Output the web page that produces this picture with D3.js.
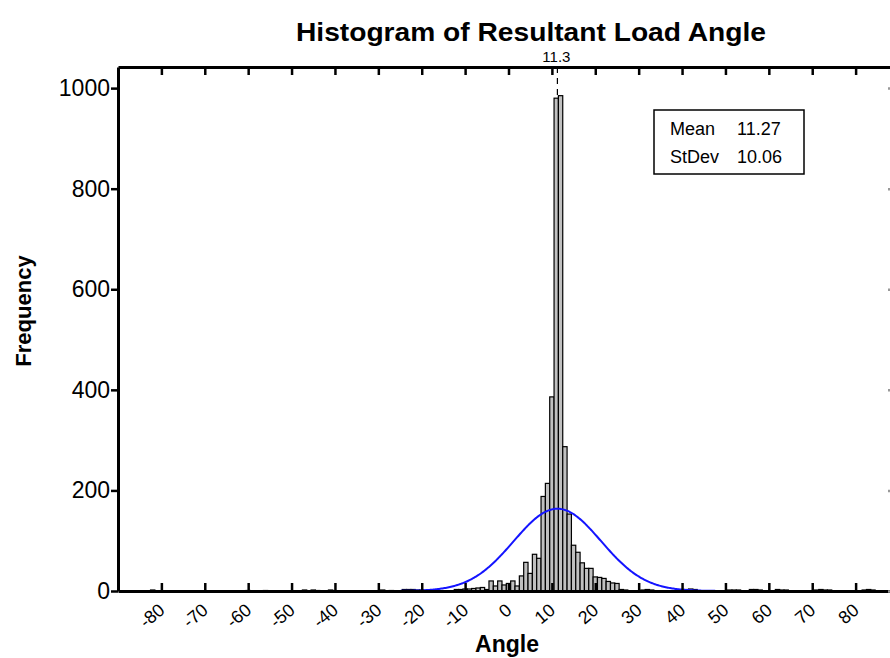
<!DOCTYPE html>
<html lang="en">
<head>
  <meta charset="UTF-8"/>
  <title>Histogram of Resultant Load Angle</title>
  <script src="https://d3js.org/d3.v7.min.js"></script>
  <style>
    body { margin: 0; background: #ffffff; }
    svg { display: block; font-family: "Liberation Sans", Arial, sans-serif; }
  </style>
</head>
<body>
<svg id="chart" width="890" height="658"></svg>
<script>
// bin midpoints (1 degree wide bins) and counts
const binMids = [
  -82, -60, -56, -47, -45, -44, -41, -29, -27, -24, -23, -22, -21, -20,
  -12, -11, -10, -9, -8, -7,
  -6, -5, -4, -3, -2, -1, 0, 1, 2, 3, 4, 5, 6, 7, 8, 9, 10,
  11, 12, 13, 14, 15, 16, 17, 18, 19, 20, 21, 22, 23, 24, 25, 26, 27,
  31, 32, 33, 41, 42, 43, 51, 52, 53, 56, 57, 58, 62, 63, 64,
  71, 72, 73, 74, 82, 83, 84
];
const binCounts = [
  2, 1, 1, 2, 2, 1, 2, 2, 1, 3, 3, 3, 2, 2,
  3, 3, 4, 4, 5, 6,
  7, 3, 20, 10, 20, 12, 15, 20, 10, 30, 57, 35, 73, 65, 188, 214, 386,
  980, 985, 287, 153, 91, 77, 56, 45, 45, 28, 27, 25, 19, 16, 15, 3, 2,
  2, 3, 2, 3, 4, 3, 2, 2, 2, 3, 3, 2, 3, 2, 2,
  2, 3, 2, 2, 2, 3, 2
];
const xTicks = [-80, -70, -60, -50, -40, -30, -20, -10, 0, 10, 20, 30, 40, 50, 60, 70, 80];
const yTicks = [0, 200, 400, 600, 800, 1000];
const meanVal = 11.27;
const sdVal = 10.06;
const binWidth = 1;
const curveRange = [-26.5, 48.5];

const svg = d3.select("#chart");
const x = d3.scaleLinear().domain([-90, 90]).range([118, 899]);
const y = d3.scaleLinear().domain([0, 1042]).range([591, 67]);

// bars
const bins = binMids.map((m, i) => ({mid: m, count: binCounts[i]}));
svg.append("g").selectAll("rect")
  .data(bins)
  .enter().append("rect")
  .attr("x", d => x(d.mid - binWidth / 2))
  .attr("width", d => x(d.mid + binWidth / 2) - x(d.mid - binWidth / 2))
  .attr("y", d => y(d.count))
  .attr("height", d => y(0) - y(d.count))
  .style("fill", "#c0c0c0")
  .style("stroke", "#000")
  .style("stroke-width", 1.2);

// fitted normal curve
const total = d3.sum(binCounts);
const pdf = v => total * binWidth * Math.exp(-0.5 * Math.pow((v - meanVal) / sdVal, 2)) / (sdVal * Math.sqrt(2 * Math.PI));
const curvePts = d3.range(curveRange[0], curveRange[1] + 0.01, 0.25).map(v => [v, pdf(v)]);
svg.append("path")
  .datum(curvePts)
  .attr("d", d3.line().x(d => x(d[0])).y(d => y(d[1])))
  .style("fill", "none")
  .style("stroke", "#1414ff")
  .style("stroke-width", 2);

// axes
function styleAxis(g) {
  g.select(".domain").style("stroke", "#000").style("stroke-width", 3);
  g.selectAll(".tick line").style("stroke", "#000").style("stroke-width", 2.5);
}

const bottom = svg.append("g")
  .attr("transform", "translate(0," + y(0) + ")")
  .call(d3.axisBottom(x).tickValues(xTicks).tickSize(-8).tickSizeOuter(0).tickFormat(d => String(d)))
  .call(styleAxis);
bottom.selectAll(".tick text")
  .attr("y", 0).attr("dy", 0)
  .attr("transform", "translate(4,21) rotate(-40)")
  .style("text-anchor", "end")
  .style("font-size", "18px")
  .style("fill", "#000");

svg.append("g")
  .attr("transform", "translate(0," + y.range()[1] + ")")
  .call(d3.axisTop(x).tickValues(xTicks).tickSize(-8).tickSizeOuter(0).tickFormat(""))
  .call(styleAxis);

const left = svg.append("g")
  .attr("transform", "translate(" + x(-90) + ",0)")
  .call(d3.axisLeft(y).tickValues(yTicks).tickSize(7).tickPadding(1).tickSizeOuter(0).tickFormat(d3.format("d")))
  .call(styleAxis);
left.selectAll(".tick text").style("font-size", "23px").style("fill", "#000");

svg.append("g")
  .attr("transform", "translate(" + x(90) + ",0)")
  .call(d3.axisRight(y).tickValues(yTicks).tickSize(-11).tickSizeOuter(0).tickFormat(""))
  .call(g => {
    g.select(".domain").style("stroke", "#000").style("stroke-width", 3);
    g.selectAll(".tick line").style("stroke", "#999").style("stroke-width", 2.5);
  });

// mean reference line
svg.append("line")
  .attr("x1", x(meanVal)).attr("x2", x(meanVal))
  .attr("y1", y.range()[1]).attr("y2", y(d3.max(binCounts)))
  .style("stroke", "#000").style("stroke-width", 1.2)
  .style("stroke-dasharray", "6,5");
svg.append("text")
  .attr("x", x(meanVal) - 1).attr("y", 62)
  .attr("text-anchor", "middle")
  .style("font-size", "15px")
  .text(d3.format(".1f")(meanVal));

// titles
svg.append("text")
  .attr("x", 531).attr("y", 41)
  .attr("text-anchor", "middle")
  .attr("textLength", 470)
  .attr("lengthAdjust", "spacingAndGlyphs")
  .style("font-size", "25px").style("font-weight", "bold")
  .text("Histogram of Resultant Load Angle");
svg.append("text")
  .attr("x", 507).attr("y", 652)
  .attr("text-anchor", "middle")
  .style("font-size", "23px").style("font-weight", "bold")
  .text("Angle");
svg.append("text")
  .attr("transform", "translate(31,311) rotate(-90)")
  .attr("text-anchor", "middle")
  .style("font-size", "22px").style("font-weight", "bold")
  .text("Frequency");

// stats box
const box = svg.append("g").attr("transform", "translate(654,110)");
box.append("rect")
  .attr("width", 150).attr("height", 64)
  .style("fill", "#fff").style("stroke", "#000").style("stroke-width", 1.5);
const stats = [["Mean", meanVal.toFixed(2)], ["StDev", sdVal.toFixed(2)]];
stats.forEach((s, i) => {
  box.append("text").attr("x", 16).attr("y", 25 + i * 28).style("font-size", "18px").text(s[0]);
  box.append("text").attr("x", 83).attr("y", 25 + i * 28).style("font-size", "18px").text(s[1]);
});
</script>
</body>
</html>
